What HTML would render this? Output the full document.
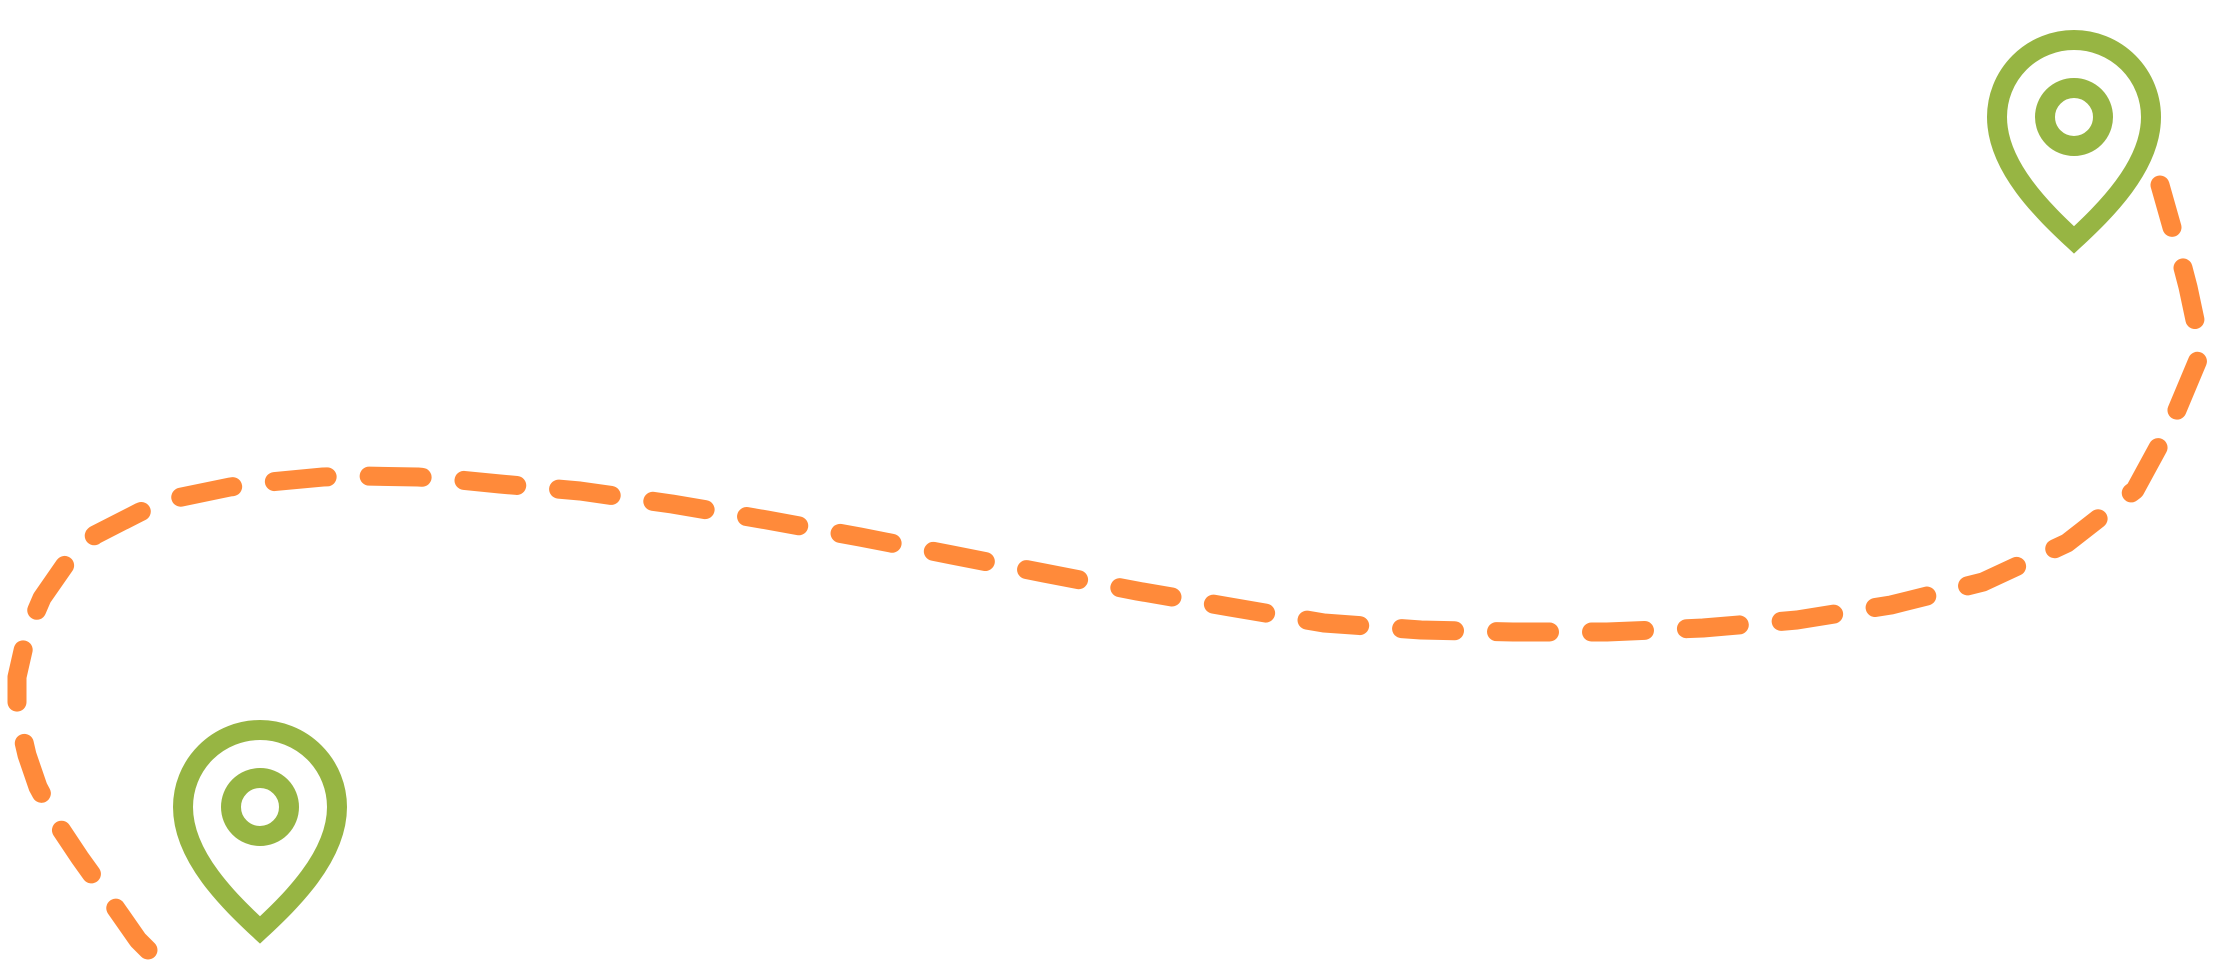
<!DOCTYPE html>
<html><head><meta charset="utf-8"><style>
html,body{margin:0;padding:0;background:#fff;}
svg{display:block}
</style></head><body>
<svg width="2219" height="974" viewBox="0 0 2219 974" xmlns="http://www.w3.org/2000/svg">
<polyline fill="none" stroke="#FF8A3A" stroke-width="19" stroke-linecap="round" stroke-linejoin="round" stroke-dasharray="53 42"
points="148,950 138,940 108,897 80,858 60,828 38,787 27,755 17,712 17,677 27,633 42,598 67,562 95,535 140,512 177,498 230,487 270,482 323,477 363,476 418,477 460,480 500,484 580,491 672,504 767,520 860,537 952,555 1044,573 1137,591 1230,607 1324,623 1421,630 1513,632 1607,632 1703,628 1797,620 1891,605 1983,582 2067,543 2135,490 2172,422 2198,360 2195,320 2188,287 2177,245 2160,185"/>
<g fill="none" stroke="#97B543" stroke-linejoin="miter">
<path stroke-width="20" d="M2074,240 C2044,212 1997,167 1997,117 A77 77 0 0 1 2151,117 C2151,167 2104,212 2074,240 Z"/>
<circle cx="2074" cy="117" r="29" stroke-width="20"/>
<path stroke-width="20" d="M260,930 C230,902 183,857 183,807 A77 77 0 0 1 337,807 C337,857 290,902 260,930 Z"/>
<circle cx="260" cy="807" r="29" stroke-width="20"/>
</g>
</svg>
</body></html>
